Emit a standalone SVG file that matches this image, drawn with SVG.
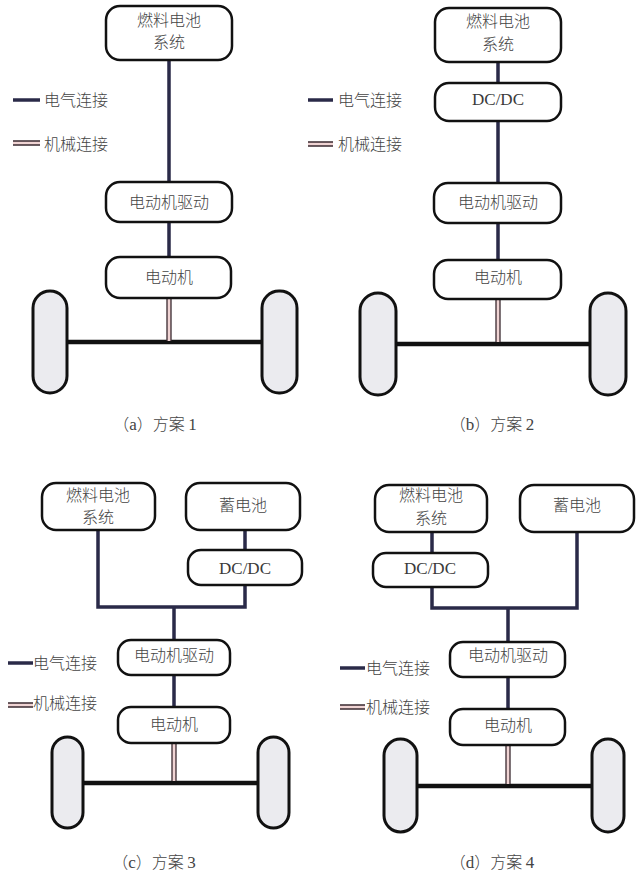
<svg xmlns="http://www.w3.org/2000/svg" width="640" height="875" viewBox="0 0 640 875">
<style>
.box{fill:#ffffff;stroke:#111111;stroke-width:2.5}
.wheel{fill:#ebebef;stroke:#111111;stroke-width:3}
.elec{fill:none;stroke:#2a2a48;stroke-width:3.5}
.axle{fill:none;stroke:#111111;stroke-width:4.5}
.mfill{fill:#f0d4d4}
.mline{stroke:#3a2a30;stroke-width:1.3}
.t{font-family:"Noto Sans CJK SC","Noto Sans",sans-serif;font-size:16px;font-weight:300;fill:#444444;text-anchor:middle}
.tl{font-family:"Noto Sans CJK SC","Noto Sans",sans-serif;font-size:16px;font-weight:300;fill:#444444}
.s{font-family:"Liberation Serif",serif;font-size:17px;fill:#3a3a3a;text-anchor:middle}
.cap{font-family:"Noto Sans CJK SC","Noto Sans",sans-serif;font-size:16px;font-weight:300;fill:#444444;text-anchor:middle}
.capl{font-family:"Liberation Serif",serif;font-size:17px;font-weight:normal}
</style>
<g id="connectors">
<path class="elec" d="M169 60V182M169 222V257"/>
<path class="elec" d="M498 62V83M498 121V183M498 223V260"/>
<path class="elec" d="M98 530V607H245V585M245 530V550M174 607V640M174 675V707"/>
<path class="elec" d="M432 532V553M432 587V608H577V532M508 608V642M508 677V709"/>
<path class="axle" d="M67 342H263M396 344H591M83 783H259M417 786H593"/>
<rect class="mfill" x="167" y="298" width="4" height="43"/>
<path class="mline" d="M167 298V341M171 298V341"/>
<rect class="mfill" x="496" y="299" width="4" height="43"/>
<path class="mline" d="M496 299V342M500 299V342"/>
<rect class="mfill" x="172" y="743" width="4" height="38"/>
<path class="mline" d="M172 743V781M176 743V781"/>
<rect class="mfill" x="506" y="745" width="4" height="39"/>
<path class="mline" d="M506 745V784M510 745V784"/>
</g>
<g id="legend-a">
<path class="elec" d="M13 100H40"/>
<text class="tl" x="44" y="106">电气连接</text>
<rect class="mfill" x="13" y="141" width="27" height="4"/>
<path class="mline" d="M13 141H40M13 145H40"/>
<text class="tl" x="44" y="150">机械连接</text>
</g>
<g id="legend-b">
<path class="elec" d="M308 100H333"/>
<text class="tl" x="338" y="106">电气连接</text>
<rect class="mfill" x="308" y="142" width="25" height="4"/>
<path class="mline" d="M308 142H333M308 146H333"/>
<text class="tl" x="338" y="150">机械连接</text>
</g>
<g id="legend-c">
<path class="elec" d="M8 663H33"/>
<text class="tl" x="33" y="669">电气连接</text>
<rect class="mfill" x="8" y="703" width="25" height="4"/>
<path class="mline" d="M8 703H33M8 707H33"/>
<text class="tl" x="33" y="709">机械连接</text>
</g>
<g id="legend-d">
<path class="elec" d="M340 668H365"/>
<text class="tl" x="366" y="674">电气连接</text>
<rect class="mfill" x="340" y="705" width="25" height="4"/>
<path class="mline" d="M340 705H365M340 709H365"/>
<text class="tl" x="366" y="713">机械连接</text>
</g>
<g id="a-fc"><rect class="box" x="106" y="6" width="126" height="54" rx="14"/><text class="t" x="169" y="26">燃料电池</text><text class="t" x="169" y="48">系统</text></g>
<g id="a-drive"><rect class="box" x="106" y="182" width="126" height="40" rx="14"/><text class="t" x="169" y="208">电动机驱动</text></g>
<g id="a-motor"><rect class="box" x="106" y="257" width="125" height="41" rx="14"/><text class="t" x="169" y="283">电动机</text></g>
<g id="a-wheel-l"><rect class="wheel" x="33" y="291" width="34" height="102" rx="17"/></g>
<g id="a-wheel-r"><rect class="wheel" x="262" y="291" width="35" height="102" rx="17"/></g>
<g id="a-cap"><text class="cap" x="155" y="430">（<tspan class="capl">a</tspan>）方案 <tspan class="capl">1</tspan></text></g>
<g id="b-fc"><rect class="box" x="435" y="8" width="126" height="54" rx="14"/><text class="t" x="498" y="27">燃料电池</text><text class="t" x="498" y="50">系统</text></g>
<g id="b-dcdc"><rect class="box" x="435" y="83" width="126" height="38" rx="14"/><text class="s" x="498" y="105">DC/DC</text></g>
<g id="b-drive"><rect class="box" x="434" y="183" width="127" height="40" rx="14"/><text class="t" x="498" y="208">电动机驱动</text></g>
<g id="b-motor"><rect class="box" x="434" y="260" width="127" height="39" rx="14"/><text class="t" x="498" y="283">电动机</text></g>
<g id="b-wheel-l"><rect class="wheel" x="360" y="293" width="36" height="102" rx="18"/></g>
<g id="b-wheel-r"><rect class="wheel" x="590" y="293" width="36" height="102" rx="18"/></g>
<g id="b-cap"><text class="cap" x="492" y="430">（<tspan class="capl">b</tspan>）方案 <tspan class="capl">2</tspan></text></g>
<g id="c-fc"><rect class="box" x="42" y="483" width="113" height="47" rx="14"/><text class="t" x="98" y="501">燃料电池</text><text class="t" x="98" y="523">系统</text></g>
<g id="c-bat"><rect class="box" x="186" y="483" width="114" height="47" rx="14"/><text class="t" x="243" y="511">蓄电池</text></g>
<g id="c-dcdc"><rect class="box" x="188" y="550" width="114" height="35" rx="13"/><text class="s" x="245" y="574">DC/DC</text></g>
<g id="c-drive"><rect class="box" x="118" y="640" width="112" height="35" rx="13"/><text class="t" x="174" y="661">电动机驱动</text></g>
<g id="c-motor"><rect class="box" x="118" y="707" width="112" height="36" rx="13"/><text class="t" x="174" y="730">电动机</text></g>
<g id="c-wheel-l"><rect class="wheel" x="52" y="737" width="31" height="91" rx="15.5"/></g>
<g id="c-wheel-r"><rect class="wheel" x="258" y="737" width="31" height="91" rx="15.5"/></g>
<g id="c-cap"><text class="cap" x="154" y="868">（<tspan class="capl">c</tspan>）方案 <tspan class="capl">3</tspan></text></g>
<g id="d-fc"><rect class="box" x="375" y="485" width="112" height="47" rx="14"/><text class="t" x="431" y="501">燃料电池</text><text class="t" x="431" y="524">系统</text></g>
<g id="d-bat"><rect class="box" x="520" y="485" width="114" height="47" rx="14"/><text class="t" x="577" y="511">蓄电池</text></g>
<g id="d-dcdc"><rect class="box" x="373" y="553" width="115" height="34" rx="13"/><text class="s" x="430" y="574">DC/DC</text></g>
<g id="d-drive"><rect class="box" x="450" y="642" width="115" height="35" rx="13"/><text class="t" x="508" y="661">电动机驱动</text></g>
<g id="d-motor"><rect class="box" x="450" y="709" width="115" height="36" rx="13"/><text class="t" x="508" y="731">电动机</text></g>
<g id="d-wheel-l"><rect class="wheel" x="384" y="739" width="33" height="93" rx="16.5"/></g>
<g id="d-wheel-r"><rect class="wheel" x="592" y="739" width="32" height="93" rx="16"/></g>
<g id="d-cap"><text class="cap" x="492" y="868">（<tspan class="capl">d</tspan>）方案 <tspan class="capl">4</tspan></text></g>
</svg>
